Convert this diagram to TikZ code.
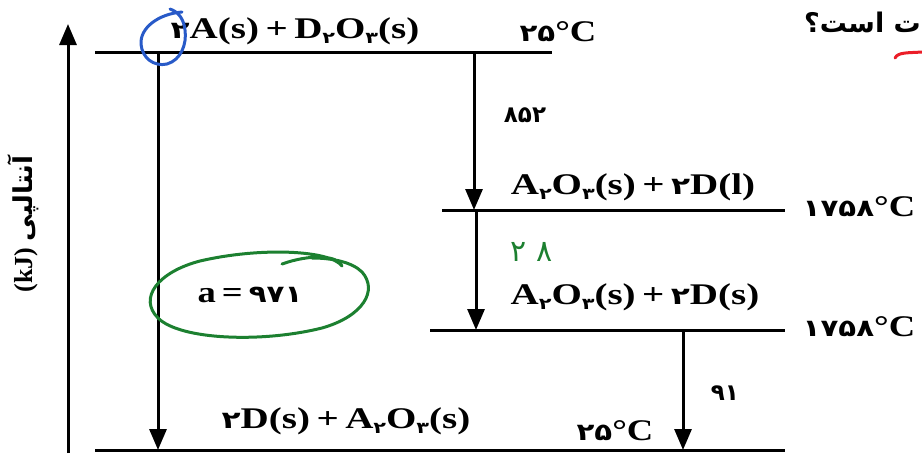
\documentclass[tikz,border=0pt]{standalone}
\usepackage{fontspec}
\setmainfont{Liberation Serif}
\newfontfamily\fa[Script=Arabic]{DejaVu Sans}
\TeXXeTstate=1
\usetikzlibrary{arrows.meta}
\definecolor{hgreen}{RGB}{28,128,48}
\definecolor{hblue}{RGB}{40,90,200}
\definecolor{hred}{RGB}{235,30,40}
\newcommand\pd[1]{{\fa\bfseries\fontsize{24}{24}\selectfont #1}}
\newcommand\sbs[1]{\raisebox{-0.35ex}{\fa\bfseries\fontsize{16}{16}\selectfont #1}}
\newcommand\wide[1]{\scalebox{1.3}[1]{#1}}
\newcommand\wideb[1]{\scalebox{1.22}[1]{#1}}
\tikzset{
  lvl/.style={line width=3pt},
  arr/.style={line width=3pt,-{Triangle[width=17pt,length=21pt]}},
  chem/.style={font=\bfseries\fontsize{30}{30}\selectfont,inner sep=0pt},
  num/.style={font=\fa\bfseries\fontsize{23}{23}\selectfont,inner sep=0pt},
  hand/.style={line width=3pt,line cap=round,line join=round}
}
\begin{document}
\begin{tikzpicture}[x=1pt,y=-1pt]
\useasboundingbox (0,0) rectangle (922,453);
% level end points
\coordinate (L1a) at (95,52);  \coordinate (L1b) at (552,52);
\coordinate (L2a) at (442,210); \coordinate (L2b) at (785,210);
\coordinate (L3a) at (430,330); \coordinate (L3b) at (785,330);
\coordinate (L4a) at (95,450); \coordinate (L4b) at (785,450);
\draw[lvl] (L1a) -- (L1b);
\draw[lvl] (L2a) -- (L2b);
\draw[lvl] (L3a) -- (L3b);
\draw[lvl] (L4a) -- (L4b);
% axis
\coordinate (ax0) at (68,453); \coordinate (ax1) at (68,24);
\draw[arr] (ax0) -- (ax1);
% arrows
\coordinate (a1s) at (158,52); \coordinate (a1e) at (158,450);
\draw[arr] (a1s) -- (a1e);
\coordinate (a2s) at (474,52); \coordinate (a2e) at (474,210);
\draw[arr] (a2s) -- (a2e);
\coordinate (a3s) at (476,210); \coordinate (a3e) at (476,330);
\draw[arr] (a3s) -- (a3e);
\coordinate (a4s) at (683,330); \coordinate (a4e) at (683,450);
\draw[arr] (a4s) -- (a4e);
% texts
\node[chem] (f1) at (295,31) {\wide{\pd{۲}A(s)\,+\,D\sbs{۲}O\sbs{۳}(s)}};
\node[chem] (t1) at (558,32) {\wideb{\pd{۲۵}°C}};
\node[num] (e1) at (525,115) {۸۵۲};
\node[chem] (f2) at (633,187) {\wide{A\sbs{۲}O\sbs{۳}(s)\,+\,\pd{۲}D(l)}};
\node[chem] (t2) at (859,207) {\wideb{\pd{۱۷۵۸}°C}};
\node[chem] (f3) at (635,297) {\wide{A\sbs{۲}O\sbs{۳}(s)\,+\,\pd{۲}D(s)}};
\node[chem] (t3) at (859,327) {\wideb{\pd{۱۷۵۸}°C}};
\node[num] (e3) at (725,393) {۹۱};
\node[chem] (f4) at (346,421) {\wide{\pd{۲}D(s)\,+\,A\sbs{۲}O\sbs{۳}(s)}};
\node[chem] (t4) at (615,431) {\wideb{\pd{۲۵}°C}};
\node[chem] (av) at (250,295) {\wideb{a\,=\,\pd{۹۷۱}}};
\node[rotate=90,inner sep=0pt,font=\bfseries\fontsize{26}{26}\selectfont] (ylab) at (23,224)
  {(kJ)\ {\fa\beginR آنتالپی\endR}};
\node[anchor=east,inner sep=0pt,font=\fa\bfseries\fontsize{27}{27}\selectfont] (q) at (921,22)
  {\beginR ت است؟\endR};
% handwriting
\node[text=hgreen,inner sep=0pt,font=\fa\fontsize{30}{30}\selectfont] (g28) at (532,252) {۲\,\,۸};
\draw[hand,hblue] (182,12) .. controls (158,14) and (140,28) .. (141,44)
  .. controls (142,58) and (154,67) .. (167,64)
  .. controls (181,60) and (187,44) .. (185,30)
  .. controls (184,20) and (179,12) .. (170,9);
\draw[hand,hgreen] (282,264) .. controls (310,254) and (338,255) .. (342,266)
  .. controls (330,250) and (260,247) .. (200,261)
  .. controls (158,272) and (138,298) .. (158,318)
  .. controls (180,340) and (262,343) .. (322,328)
  .. controls (364,316) and (378,290) .. (362,272)
  .. controls (352,262) and (332,258) .. (312,258);
\draw[hand,hred] (895,58) .. controls (898,52) and (908,53) .. (922,52);
\end{tikzpicture}
\end{document}
